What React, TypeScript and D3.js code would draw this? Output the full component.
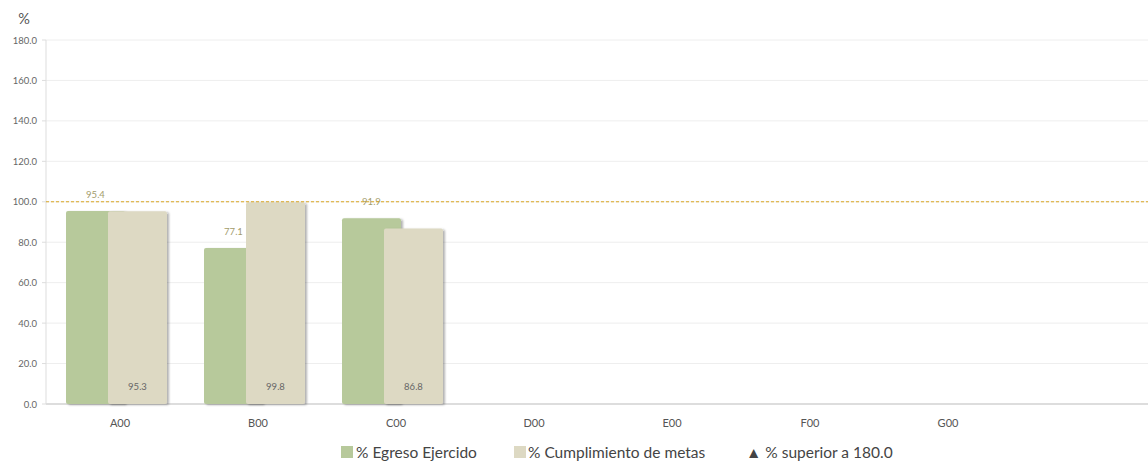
import React from "react";
import * as d3 from "d3";

const categories = ["A00", "B00", "C00", "D00", "E00", "F00", "G00"];
const egreso: (number | null)[] = [95.4, 77.1, 91.9, null, null, null, null];
const metas: (number | null)[] = [95.3, 99.8, 86.8, null, null, null, null];
const yTicks = [0, 20, 40, 60, 80, 100, 120, 140, 160, 180];
const refValue = 100;

const W = 1148;
const H = 461;
const FONT = "Lato, 'Open Sans', sans-serif";
const GREEN = "#b7c99b";
const BEIGE = "#ddd9c3";

export default function App() {
  const left = 46;
  const y = d3.scaleLinear().domain([0, 180]).range([404, 40]);
  const x = d3.scaleBand<string>().domain(categories).range([51, 51 + 138 * 7]);
  const step = x.step();
  const barW = 59;
  const greenOff = -54;
  const beigeOff = -12;
  const cx = (c: string) => (x(c) as number) + step / 2;

  return (
    <svg width={W} height={H} style={{ position: "absolute", left: 0, top: 0, fontFamily: FONT }}>
      <defs>
        <filter id="sh" x="-20%" y="-10%" width="140%" height="120%">
          <feDropShadow dx="2" dy="1" stdDeviation="1.2" floodColor="#000" floodOpacity="0.3" />
        </filter>
      </defs>
      <rect width={W} height={H} fill="#fff" />
      <text x={24} y={24} fontSize={14.5} fill="#555" textAnchor="middle">%</text>
      {yTicks.map((t) => (
        <g key={t}>
          <line x1={left} x2={W} y1={y(t)} y2={y(t)} stroke={t === 0 ? "#ddd" : "#eeeeee"} strokeWidth={t === 0 ? 2 : 1} />
          <line x1={left - 4} x2={left} y1={y(t)} y2={y(t)} stroke="#ddd" />
          <text x={37} y={y(t) + 3.5} fontSize={9.5} fill="#666" textAnchor="end">{t.toFixed(1)}</text>
        </g>
      ))}
      <line x1={left} x2={left} y1={y(180)} y2={y(0)} stroke="#ddd" />
      {categories.map((c, i) => {
        const g = egreso[i];
        const m = metas[i];
        const c0 = cx(c);
        return (
          <g key={c}>
            {g != null && (
              <rect x={c0 + greenOff} y={y(g)} width={barW} height={y(0) - y(g)} fill={GREEN} rx={2} filter="url(#sh)" />
            )}
            {m != null && (
              <rect x={c0 + beigeOff} y={y(m)} width={barW} height={y(0) - y(m)} fill={BEIGE} rx={2} filter="url(#sh)" />
            )}
            {g != null && (
              <text x={c0 + greenOff + barW / 2} y={y(g) - 13} fontSize={9.5} fill="#a39c6b" textAnchor="middle">{g.toFixed(1)}</text>
            )}
            {m != null && (
              <text x={c0 + beigeOff + barW / 2} y={y(0) - 14} fontSize={9.5} fill="#666" textAnchor="middle">{m.toFixed(1)}</text>
            )}
            <text x={c0} y={427} fontSize={11} fill="#555" textAnchor="middle">{c}</text>
          </g>
        );
      })}
      <line x1={left} x2={W} y1={y(refValue)} y2={y(refValue)} stroke="#d9a520" strokeDasharray="3,2" strokeWidth={1} />
      <g fontSize={15.5} fill="#444">
        <rect x={341} y={446} width={12} height={12} fill={GREEN} />
        <text x={356} y={458}>% Egreso Ejercido</text>
        <rect x={514} y={446} width={12} height={12} fill={BEIGE} />
        <text x={528} y={458}>% Cumplimiento de metas</text>
        <text x={746} y={458}>▲ % superior a 180.0</text>
      </g>
    </svg>
  );
}
